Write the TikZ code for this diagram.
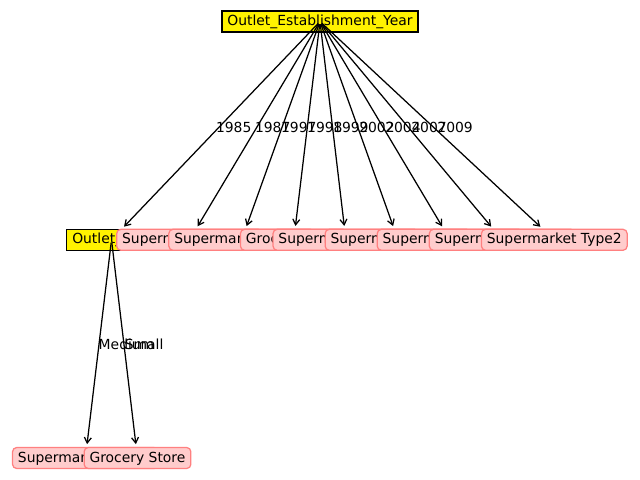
\documentclass[tikz,border=0pt]{standalone}
\usepackage{fontspec}
\setmainfont{DejaVu Sans}
\usetikzlibrary{arrows.meta}
\definecolor{pinkfill}{rgb}{1,0.8,0.8}
\definecolor{pinkedge}{rgb}{1,0.5,0.5}
\tikzset{
  boxbase/.style={font=\fontsize{10pt}{12pt}\selectfont, inner xsep=3.9pt, inner ysep=3pt,
    text height=7.5pt, text depth=1.6pt, line width=0.9pt},
  decision/.style={boxbase, rectangle, fill=yellow, draw=black},
  leaf/.style={boxbase, rectangle, rounded corners=3pt, fill=pinkfill, draw=pinkedge},
  edge/.style={-{Straight Barb[length=4pt,width=5pt]}, line width=0.9pt, shorten >=2pt, shorten <=2pt},
  elabel/.style={font=\fontsize{10pt}{12pt}\selectfont, inner sep=0pt, anchor=base west}
}
\begin{document}
\begin{tikzpicture}[x=0.72pt,y=-0.72pt]
\useasboundingbox (0,0) rectangle (640,480);
% nodes
\node[decision] (root) at (320,21.5) {Outlet\_Establishment\_Year};
\node[decision] (c1) at (111.5,239.8) {Outlet\_Size};
\node[leaf] (g1) at (85.4,458) {Supermarket Type3};
\node[leaf] (g2) at (137.5,458) {Grocery Store};
\node[leaf] (c2) at (189.6,239.8) {Supermarket Type1};
\node[leaf] (c3) at (241.7,239.8) {Supermarket Type1};
\node[leaf] (c4) at (293.8,239.8) {Grocery Store};
\node[leaf] (c5) at (345.9,239.8) {Supermarket Type1};
\node[leaf] (c6) at (398.0,239.8) {Supermarket Type1};
\node[leaf] (c7) at (450.1,239.8) {Supermarket Type1};
\node[leaf] (c8) at (502.2,239.8) {Supermarket Type1};
\node[leaf] (c9) at (554.3,239.8) {Supermarket Type2};
% connectors
\foreach \c in {c1,c2,c3,c4,c5,c6,c7,c8,c9}
  \draw[edge] (root.center) -- (\c);
\draw[edge] (c1.center) -- (g1);
\draw[edge] (c1.center) -- (g2);
% labels
\foreach \c/\t in {c1/1985,c2/1987,c3/1997,c4/1998,c5/1999,c6/2002,c7/2004,c8/2007,c9/2009}
  \path (root.center) -- (\c.center) node[pos=0.5, elabel, yshift=-1pt] {\t};
\path (c1.center) -- (g1.center) node[pos=0.5, elabel, yshift=-0.5pt] {Medium};
\path (c1.center) -- (g2.center) node[pos=0.5, elabel, yshift=-0.5pt] {Small};
\end{tikzpicture}
\end{document}
